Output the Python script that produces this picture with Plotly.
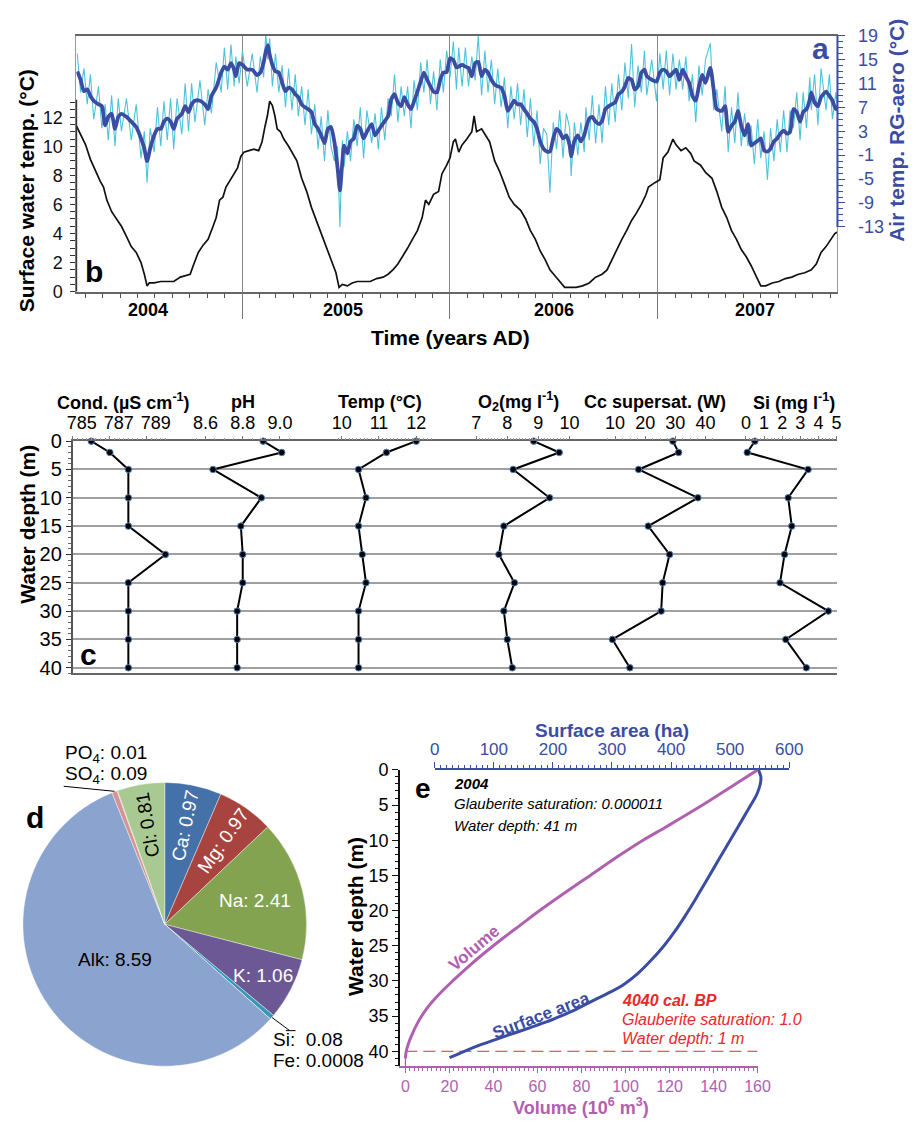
import numpy as np
import pandas as pd
import plotly.graph_objects as go

W, H = 917, 1127
FONT = "Liberation Sans, Arial, Helvetica, sans-serif"
BLUE = "#3A4DA3"
CYAN = "#4DC3DA"
PURPLE = "#B160B0"
RED = "#E8282B"


def px(x):
    return x / W


def py(y):
    return 1 - y / H


# ---------------- Panel a/b: time series ----------------
water_year = [
    2004.205, 2004.225, 2004.249, 2004.272, 2004.296, 2004.319, 2004.335, 2004.351, 2004.374, 2004.398,
    2004.421, 2004.445, 2004.468, 2004.492, 2004.515, 2004.531, 2004.544, 2004.555, 2004.578, 2004.610,
    2004.641, 2004.672, 2004.704, 2004.735, 2004.751, 2004.766, 2004.790, 2004.813, 2004.837, 2004.861,
    2004.876, 2004.892, 2004.908, 2004.923, 2004.947, 2004.962, 2004.978, 2004.994, 2005.009, 2005.033,
    2005.057, 2005.080, 2005.096, 2005.111, 2005.122, 2005.133, 2005.146, 2005.158, 2005.169, 2005.185,
    2005.201, 2005.224, 2005.248, 2005.264, 2005.287, 2005.311, 2005.334, 2005.358, 2005.381, 2005.405,
    2005.428, 2005.452, 2005.467, 2005.483, 2005.507, 2005.530, 2005.554, 2005.585, 2005.617, 2005.648,
    2005.679, 2005.703, 2005.726, 2005.750, 2005.773, 2005.797, 2005.820, 2005.844, 2005.867, 2005.883,
    2005.899, 2005.922, 2005.946, 2005.962, 2005.985, 2006.001, 2006.017, 2006.027, 2006.043, 2006.059,
    2006.082, 2006.106, 2006.117, 2006.129, 2006.153, 2006.169, 2006.192, 2006.216, 2006.239, 2006.263,
    2006.286, 2006.310, 2006.341, 2006.365, 2006.388, 2006.412, 2006.435, 2006.459, 2006.482, 2006.506,
    2006.530, 2006.553, 2006.577, 2006.608, 2006.639, 2006.671, 2006.702, 2006.733, 2006.757, 2006.780,
    2006.804, 2006.828, 2006.851, 2006.875, 2006.898, 2006.922, 2006.945, 2006.956, 2006.987, 2007.011,
    2007.027, 2007.050, 2007.074, 2007.089, 2007.113, 2007.136, 2007.160, 2007.176, 2007.207, 2007.231,
    2007.262, 2007.285, 2007.309, 2007.333, 2007.356, 2007.380, 2007.403, 2007.427, 2007.450, 2007.474,
    2007.497, 2007.521, 2007.552, 2007.584, 2007.615, 2007.646, 2007.678, 2007.709, 2007.740, 2007.764,
    2007.787, 2007.811, 2007.835, 2007.853, 2007.866,
]
water_temp = [
    11.4, 10.8, 10.1, 9.1, 8.3, 7.6, 7.2, 6.3, 5.5, 5.0,
    4.5, 3.8, 3.1, 2.7, 2.0, 1.2, 0.4, 0.6, 0.6, 0.7,
    0.7, 0.7, 1.0, 1.1, 1.2, 1.8, 2.7, 3.2, 3.6, 4.5,
    5.1, 6.3, 6.5, 7.2, 7.8, 8.2, 8.5, 9.3, 9.6, 9.7,
    9.8, 9.7, 10.3, 11.4, 12.1, 13.1, 12.8, 12.1, 11.2, 11.0,
    10.5, 10.0, 9.4, 9.0, 7.8, 6.9, 5.8, 4.9, 4.0, 3.1,
    2.2, 1.3, 0.3, 0.5, 0.4, 0.6, 0.7, 0.7, 0.7, 0.9,
    1.0, 1.2, 1.5, 1.9, 2.4, 3.0, 3.6, 4.2, 5.1, 6.3,
    6.0, 6.7, 6.9, 8.1, 8.7, 9.2, 10.3, 10.5, 9.6, 10.1,
    10.5, 11.0, 12.1, 11.0, 11.2, 10.8, 10.3, 9.0, 8.3, 7.4,
    6.5, 6.0, 5.6, 5.0, 4.2, 3.6, 2.8, 2.2, 1.5, 1.1,
    0.7, 0.3, 0.3, 0.3, 0.4, 0.6, 1.0, 1.2, 1.5, 2.2,
    2.9, 3.6, 4.2, 4.9, 5.4, 6.0, 6.7, 7.2, 7.5, 7.7,
    9.2, 9.6, 10.5, 10.1, 9.7, 9.9, 9.5, 9.0, 8.7, 8.2,
    7.8, 6.9, 5.8, 5.1, 4.2, 3.6, 2.9, 2.4, 1.8, 1.1,
    0.4, 0.4, 0.6, 0.7, 0.9, 1.0, 1.2, 1.3, 1.5, 1.9,
    2.7, 3.1, 3.6, 4.0, 4.1,
]

air_year = [
    2004.209, 2004.225, 2004.241, 2004.257, 2004.272, 2004.288, 2004.311, 2004.327, 2004.343, 2004.358,
    2004.374, 2004.390, 2004.406, 2004.421, 2004.445, 2004.468, 2004.492, 2004.515, 2004.531, 2004.544,
    2004.559, 2004.578, 2004.594, 2004.610, 2004.625, 2004.641, 2004.657, 2004.672, 2004.688, 2004.711,
    2004.727, 2004.743, 2004.758, 2004.774, 2004.798, 2004.821, 2004.837, 2004.853, 2004.876, 2004.900,
    2004.915, 2004.931, 2004.947, 2004.962, 2004.970, 2004.986, 2005.002, 2005.025, 2005.049, 2005.072,
    2005.088, 2005.104, 2005.114, 2005.124, 2005.133, 2005.146, 2005.161, 2005.177, 2005.193, 2005.209,
    2005.224, 2005.240, 2005.256, 2005.271, 2005.287, 2005.303, 2005.318, 2005.334, 2005.350, 2005.366,
    2005.381, 2005.397, 2005.413, 2005.428, 2005.444, 2005.460, 2005.471, 2005.483, 2005.491, 2005.507,
    2005.522, 2005.538, 2005.554, 2005.569, 2005.585, 2005.601, 2005.624, 2005.640, 2005.656, 2005.671,
    2005.687, 2005.703, 2005.718, 2005.734, 2005.750, 2005.766, 2005.781, 2005.797, 2005.813, 2005.828,
    2005.844, 2005.860, 2005.875, 2005.891, 2005.907, 2005.922, 2005.938, 2005.954, 2005.969, 2005.985,
    2006.001, 2006.017, 2006.032, 2006.043, 2006.059, 2006.075, 2006.090, 2006.106, 2006.122, 2006.137,
    2006.153, 2006.169, 2006.184, 2006.200, 2006.216, 2006.231, 2006.247, 2006.263, 2006.279, 2006.294,
    2006.310, 2006.326, 2006.341, 2006.357, 2006.373, 2006.388, 2006.404, 2006.420, 2006.435, 2006.451,
    2006.467, 2006.482, 2006.498, 2006.514, 2006.529, 2006.545, 2006.561, 2006.577, 2006.584, 2006.600,
    2006.616, 2006.631, 2006.647, 2006.655, 2006.671, 2006.686, 2006.702, 2006.718, 2006.733, 2006.749,
    2006.765, 2006.780, 2006.796, 2006.812, 2006.828, 2006.843, 2006.859, 2006.875, 2006.890, 2006.906,
    2006.922, 2006.937, 2006.948, 2006.972, 2006.995, 2007.011, 2007.027, 2007.042, 2007.058, 2007.074,
    2007.089, 2007.105, 2007.121, 2007.136, 2007.152, 2007.168, 2007.184, 2007.199, 2007.215, 2007.231,
    2007.254, 2007.270, 2007.285, 2007.309, 2007.325, 2007.340, 2007.356, 2007.372, 2007.387, 2007.403,
    2007.419, 2007.435, 2007.450, 2007.466, 2007.482, 2007.497, 2007.513, 2007.529, 2007.544, 2007.560,
    2007.576, 2007.591, 2007.607, 2007.623, 2007.638, 2007.654, 2007.670, 2007.686, 2007.701, 2007.717,
    2007.733, 2007.740, 2007.756, 2007.772, 2007.787, 2007.811, 2007.827, 2007.842, 2007.858, 2007.871,
]
air_smooth = [
    13.0, 11.6, 9.7, 10.0, 8.9, 8.1, 7.5, 7.2, 4.0, 5.4,
    5.9, 3.4, 5.4, 5.9, 5.4, 4.6, 3.7, 1.8, 0.1, -2.0,
    0.1, 2.3, 3.4, 3.4, 4.6, 5.1, 4.6, 3.4, 5.1, 5.9,
    7.2, 6.2, 7.5, 8.1, 8.1, 7.5, 6.7, 8.9, 10.3, 12.8,
    13.8, 13.3, 14.4, 13.3, 12.2, 14.4, 14.1, 13.3, 13.3, 12.4,
    12.8, 14.5, 16.3, 17.4, 15.8, 14.1, 13.0, 12.8, 11.1, 9.7,
    10.3, 10.0, 9.2, 8.7, 7.5, 7.0, 6.7, 6.2, 4.2, 3.4,
    2.3, 1.0, 3.4, 3.7, 1.3, -3.2, -6.9, -2.0, 0.6, -0.7,
    1.3, 1.8, 3.9, 3.4, 1.8, 2.9, 4.2, 2.3, 3.1, 3.9,
    4.7, 5.5, 8.3, 9.2, 7.8, 7.2, 8.7, 7.5, 6.7, 8.0,
    9.6, 11.3, 12.8, 11.6, 10.5, 9.6, 9.5, 11.6, 12.8, 12.9,
    15.2, 14.9, 13.7, 13.8, 14.1, 13.8, 13.6, 12.2, 14.4, 14.6,
    12.2, 13.3, 12.8, 11.6, 10.8, 10.5, 10.3, 8.9, 6.4, 7.2,
    8.1, 7.5, 7.5, 6.7, 5.9, 5.1, 4.6, 3.4, 1.3, 0.1,
    -0.4, -0.4, 1.8, 3.4, 2.9, 1.8, 2.3, 0.6, -1.2, 1.4,
    2.3, 1.3, 2.3, 3.4, 5.1, 5.4, 4.6, 4.2, 4.7, 6.7,
    7.2, 7.5, 7.8, 9.2, 9.6, 10.5, 11.9, 11.6, 10.0, 10.5,
    12.8, 13.3, 12.2, 11.6, 11.3, 12.8, 13.3, 13.0, 12.2, 12.8,
    13.3, 11.6, 13.3, 12.2, 11.1, 8.9, 8.1, 10.5, 12.4, 11.1,
    13.6, 10.0, 6.7, 6.4, 7.2, 2.9, 3.9, 4.6, 6.4, 3.9,
    2.3, 4.2, 0.6, 1.0, 1.4, 1.8, -0.2, -0.4, 0.1, 1.3,
    1.8, 2.6, 3.1, 2.6, 2.9, 6.7, 6.2, 4.6, 6.2, 6.7,
    8.3, 9.5, 7.8, 7.2, 8.7, 9.6, 8.9, 8.1, 6.7, 7.2,
]
air_daily = [
    16.0, 9.5, 13.5, 7.5, 12.5, 5.0, 10.5, 3.5, 7.5, 1.5,
    9.0, 0.5, 8.5, 3.0, 8.5, 1.5, 7.5, -1.5, 3.0, -5.6,
    3.5, -0.5, 7.0, 0.5, 8.0, 1.5, 8.5, 0.0, 8.5, 2.5,
    11.0, 3.0, 11.0, 4.5, 11.5, 4.0, 10.0, 6.0, 14.5, 9.5,
    17.0, 10.0, 17.5, 10.5, 15.5, 11.0, 16.5, 10.5, 16.0, 9.5,
    15.5, 12.0, 19.3, 15.0, 18.5, 10.5, 16.0, 9.5, 14.0, 7.0,
    13.5, 6.5, 12.5, 5.5, 10.5, 4.0, 10.0, 2.5, 7.5, 0.0,
    5.5, -2.0, 6.5, 0.5, -2.0, 0.5, -13.0, 1.5, -3.0, 3.0,
    -2.0, 5.0, 0.5, 7.0, -1.5, 6.5, 1.0, 6.0, 0.0, 7.0,
    1.5, 8.5, 5.5, 12.5, 4.5, 10.5, 5.5, 10.5, 3.5, 11.5,
    6.5, 14.5, 9.5, 15.0, 7.5, 13.0, 6.5, 15.0, 9.5, 16.5,
    12.0, 18.0, 10.0, 17.0, 10.5, 17.0, 10.5, 15.5, 11.5, 19.0,
    9.0, 16.5, 9.5, 15.0, 7.5, 13.5, 7.0, 12.0, 3.5, 10.5,
    5.0, 11.0, 4.0, 10.0, 2.0, 8.5, 0.5, 6.5, -2.5, 3.5,
    2.5, -7.3, 4.5, 0.0, 6.5, -1.5, 6.0, 3.5, -4.5, 4.5,
    -1.0, 4.5, -0.5, 7.0, 1.5, 9.0, 1.0, 7.5, 1.0, 10.5,
    4.0, 11.0, 4.5, 12.5, 6.5, 14.5, 8.5, 17.6, 7.0, 14.0,
    9.5, 16.5, 9.0, 15.0, 8.0, 16.0, 10.0, 16.5, 9.0, 16.0,
    10.0, 15.0, 10.0, 15.5, 8.0, 12.5, 4.5, 14.0, 9.0, 15.0,
    17.7, 6.5, 10.0, 3.0, 10.5, -0.5, 7.0, 1.0, 9.5, 0.5,
    6.0, 0.5, 4.0, -2.5, 5.0, -1.5, 3.0, -5.1, 3.5, -2.0,
    5.0, -0.5, 6.5, -0.5, 6.5, 3.5, 9.5, 1.5, 9.5, 3.5,
    12.0, 6.5, 12.5, 4.0, 13.5, 6.5, 12.5, 5.0, 9.5, 5.0,
]
year_labels = ["2004", "2005", "2006", "2007"]
water_ticks = [0, 2, 4, 6, 8, 10, 12]
air_ticks = [-13, -9, -5, -1, 3, 7, 11, 15, 19]

# ---------------- Panel c: depth profiles ----------------
depth = [0, 2, 5, 10, 15, 20, 25, 30, 35, 40]
cond = [786.0, 787.0, 788.0, 788.0, 788.0, 790.0, 788.0, 788.0, 788.0, 788.0]
ph = [8.91, 9.01, 8.64, 8.90, 8.79, 8.80, 8.80, 8.77, 8.77, 8.77]
temp = [12.0, 11.2, 10.45, 10.65, 10.45, 10.55, 10.65, 10.45, 10.45, 10.45]
o2 = [8.85, 9.67, 8.19, 9.36, 7.89, 7.73, 8.23, 7.89, 8.0, 8.16]
cc = [29.2, 31.1, 17.8, 37.5, 21.0, 28.1, 25.8, 25.3, 9.1, 14.9]
si = [0.49, 0.07, 3.43, 2.33, 2.53, 2.13, 1.88, 4.55, 2.2, 3.33]

# ---------------- Panel d: pie ----------------
ions = ["Ca", "Mg", "Na", "K", "Si", "Fe", "Alk", "SO4", "PO4", "Cl"]
conc = [0.97, 0.97, 2.41, 1.06, 0.08, 0.0008, 8.59, 0.09, 0.01, 0.81]
ion_colors = ["#4571A9", "#A8443F", "#83A350", "#6D5896", "#3599B3", "#E08A3C",
              "#8BA4CF", "#D39594", "#C6706E", "#A9C992"]

# ---------------- Panel e: hypsometry ----------------
vol_depth = [0, 2, 5, 8, 10, 12, 15, 18, 20, 22, 24, 26, 28, 30, 32, 34, 36, 38, 39, 40, 41]
volume = [160, 150, 135, 119, 108, 98, 84, 70, 61, 52.5, 44, 36, 28.5, 21.5, 15, 9.5, 5.5, 2.5, 1.3, 0.4, 0]
area_depth = [0, 1, 2, 3.5, 5, 7, 9, 11, 13, 15, 17, 19, 21, 23, 25, 27, 29, 30.5, 31.6, 32.8,
              34, 35, 35.8, 36.6, 37.4, 38.3, 39.1, 40, 40.9]
area = [548, 552, 551, 545, 535, 521, 507, 493, 479, 465, 451, 437, 422, 406, 388, 367, 343, 320,
        297, 268, 240, 213, 190, 163, 135, 104, 77, 50, 25]
sat_depth = 40


def to_date(yrs):
    out = []
    for v in yrs:
        y = int(np.floor(v))
        s = pd.Timestamp(y, 1, 1)
        e = pd.Timestamp(y + 1, 1, 1)
        out.append(s + (e - s) * (v - y))
    return out


fig = go.Figure()

# Panel a/b traces
fig.add_trace(go.Scatter(x=to_date(water_year), y=water_temp, mode="lines",
                         line=dict(color="#111111", width=1.7), xaxis="x", yaxis="y",
                         showlegend=False, hoverinfo="skip"))
fig.add_trace(go.Scatter(x=to_date(air_year), y=air_daily, mode="lines",
                         line=dict(color=CYAN, width=1.1), xaxis="x", yaxis="y2",
                         showlegend=False, hoverinfo="skip"))
fig.add_trace(go.Scatter(x=to_date(air_year), y=air_smooth, mode="lines",
                         line=dict(color=BLUE, width=3.8, shape="spline", smoothing=0.6),
                         xaxis="x", yaxis="y2", showlegend=False, hoverinfo="skip"))

# Panel c traces
fig.add_trace(go.Scatter(x=[0, 1], y=[0, 0], mode="markers", marker=dict(opacity=0),
                         xaxis="x2", yaxis="y3", showlegend=False, hoverinfo="skip"))
profiles = [cond, ph, temp, o2, cc, si]
for i, vals in enumerate(profiles):
    fig.add_trace(go.Scatter(x=vals, y=depth, mode="lines+markers",
                             line=dict(color="black", width=2),
                             marker=dict(size=6.5, color="black", line=dict(color="#4A7FC0", width=1)),
                             xaxis="x%d" % (i + 3), yaxis="y3", showlegend=False,
                             hoverinfo="skip", cliponaxis=False))

# Panel d pie
PIE_CX, PIE_CY, PIE_R = 162.3, 930.7, 145
fig.add_trace(go.Pie(values=conc, labels=ions, sort=False, direction="clockwise", rotation=0,
                     marker=dict(colors=ion_colors, line=dict(color="white", width=0.4)),
                     textinfo="none", hoverinfo="skip", showlegend=False,
                     domain=dict(x=[px(PIE_CX - PIE_R), px(PIE_CX + PIE_R)],
                                 y=[py(PIE_CY + PIE_R), py(PIE_CY - PIE_R)])))

# Panel e traces
fig.add_trace(go.Scatter(x=[0, 160], y=[sat_depth, sat_depth], mode="lines",
                         line=dict(color=RED, width=1, dash="12px,6px"),
                         xaxis="x9", yaxis="y4", showlegend=False, hoverinfo="skip"))
fig.add_trace(go.Scatter(x=[0, 0], y=[sat_depth, 42.09], mode="lines",
                         line=dict(color=RED, width=1),
                         xaxis="x9", yaxis="y4", showlegend=False, hoverinfo="skip"))
fig.add_trace(go.Scatter(x=volume, y=vol_depth, mode="lines",
                         line=dict(color=PURPLE, width=3, shape="spline"),
                         xaxis="x9", yaxis="y4", showlegend=False, hoverinfo="skip"))
fig.add_trace(go.Scatter(x=area, y=area_depth, mode="lines",
                         line=dict(color=BLUE, width=3, shape="spline", smoothing=0.8),
                         xaxis="x10", yaxis="y4", showlegend=False, hoverinfo="skip"))

# ---------------- Layout ----------------
x_start = to_date([2004.205])[0]
x_end = to_date([2007.866])[0]

layout = dict(
    width=W, height=H, margin=dict(l=0, r=0, t=0, b=0),
    paper_bgcolor="white", plot_bgcolor="rgba(0,0,0,0)",
    font=dict(family=FONT, size=16, color="black"),
    showlegend=False,
)

layout["xaxis"] = dict(
    domain=[px(72), px(850)], type="date", range=[x_start, x_end], anchor="y",
    tick0="2004-01-01", dtick="M12", ticks="outside", ticklen=26, tickcolor="#777",
    tickwidth=1, showticklabels=False, showgrid=True, gridcolor="#888", gridwidth=1,
    showline=True, linecolor="#666", linewidth=1.5, mirror=True, zeroline=False,
    minor=dict(dtick="M1", ticks="outside", ticklen=5, tickcolor="#555", showgrid=False),
)
layout["yaxis"] = dict(
    domain=[py(286), py(25)], range=[0, 17.62], anchor="x",
    tickvals=water_ticks, ticks="outside", ticklen=5, tickcolor="#333",
    tickfont=dict(size=18, color="#111"), ticklabelstandoff=4, showgrid=False, zeroline=False,
    showline=True, linecolor="#999", linewidth=1, mirror=True,
    minor=dict(tickvals=[v / 2 for v in range(0, 27) if v % 4 != 0], ticks="outside",
               ticklen=5, tickcolor="#333"),
)
layout["yaxis2"] = dict(
    overlaying="y", side="right", anchor="x", range=[-23.83, 19],
    tickvals=air_ticks, ticktext=[str(v) for v in air_ticks], ticks="outside", ticklen=7,
    tickcolor=BLUE, tickfont=dict(size=18, color=BLUE), ticklabelstandoff=9,
    showgrid=False, zeroline=False, showline=False,
    minor=dict(tickvals=[v for v in range(-13, 20) if v not in air_ticks], ticks="outside",
               ticklen=5, tickcolor=BLUE),
)

# panel c
layout["xaxis2"] = dict(domain=[px(68), px(850)], range=[0, 1], anchor="y3",
                        showline=True, mirror=True, linecolor="#666", linewidth=1.5,
                        ticks="", showticklabels=False, showgrid=False, zeroline=False)
layout["yaxis3"] = dict(
    domain=[py(675), py(438.3)], range=[41.0, 0], anchor="x2",
    tickvals=list(range(0, 41, 5)), ticks="outside", ticklen=5, tickcolor="#333",
    showgrid=True, gridcolor="#a0a0a0", gridwidth=1.5, tickfont=dict(size=20),
    minor=dict(tickvals=[v for v in range(0, 42) if v % 5 != 0], ticks="outside",
               ticklen=3, tickcolor="#666"),
    zeroline=False, showline=True, linecolor="#555", linewidth=1.5,
)


def lin_range(v1, p1, v2, p2, left=68, right=850):
    s = (v2 - v1) / (p2 - p1)
    return [v1 + (left - p1) * s, v1 + (right - p1) * s]


sub_axes = [
    # (v1, px1, v2, px2, tickvals, ticktext, minor, shift)
    (785, 68.3, 789, 144.0, [785, 787, 789], ["785", "787", "789"],
     [785 + 0.25 * k for k in range(0, 21)], 9),
    (8.6, 204, 9.0, 280, [8.6, 8.8, 9.0], ["8.6", "8.8", "9.0"],
     [round(8.55 + 0.05 * k, 2) for k in range(0, 11)], 0),
    (10, 343.3, 12, 419.3, [10, 11, 12], ["10", "11", "12"],
     [round(9.9 + 0.1 * k, 1) for k in range(0, 26)], 0),
    (7, 480.7, 10, 576, [7, 8, 9, 10], ["7", "8", "9", "10"],
     [round(7 + 0.1 * k, 1) for k in range(0, 31)], 0),
    (10, 622.7, 40, 715, [10, 20, 30, 40], ["10", "20", "30", "40"],
     [7.5 + 2.5 * k for k in range(0, 15)], 0),
    (0, 756.5, 5, 849, [0, 1, 2, 3, 4, 5], ["0", "1", "2", "3", "4", "5"],
     [round(0.2 * k, 1) for k in range(0, 26)], 0),
]
for i, (v1, p1, v2, p2, tv, tt, mn, sh) in enumerate(sub_axes):
    ax = dict(overlaying="x2", anchor="y3", side="top", range=lin_range(v1, p1, v2, p2),
              tickvals=tv, ticktext=tt, ticks="outside", ticklen=4, tickcolor="#777",
              tickfont=dict(size=18), showgrid=False, zeroline=False, showline=False,
              minor=dict(tickvals=mn, ticks="outside", ticklen=2, tickcolor="#999"))
    if sh:
        ax["ticklabelshift"] = sh
    layout["xaxis%d" % (i + 3)] = ax

# panel e
layout["xaxis9"] = dict(
    domain=[px(401.7), px(768.3)], range=[-2.93, 160], anchor="y4", side="bottom",
    tickvals=list(range(0, 161, 20)), ticks="outside", ticklen=5, tickcolor=PURPLE,
    tickfont=dict(size=16, color=PURPLE), showline=True, linecolor=PURPLE, linewidth=1.5,
    showgrid=False, zeroline=False,
    minor=dict(tickvals=[v for v in range(2, 160, 2) if v % 20 != 0], ticks="outside",
               ticklen=3, tickcolor=PURPLE),
)
layout["xaxis10"] = dict(
    domain=[px(438.3), px(800.7)], range=[0, 600], anchor="y4", side="top",
    tickvals=list(range(0, 601, 100)), ticks="outside", ticklen=6, tickcolor=BLUE,
    tickfont=dict(size=17, color=BLUE), showline=True, linecolor=BLUE, linewidth=1.5,
    showgrid=False, zeroline=False,
    minor=dict(tickvals=[v for v in range(10, 600, 10) if v % 100 != 0], ticks="outside",
               ticklen=3, tickcolor=BLUE),
)
layout["yaxis4"] = dict(
    domain=[py(1075), py(773.3)], range=[42.09, 0], anchor="free", position=px(401.7),
    tickvals=list(range(0, 41, 5)), ticks="outside", ticklen=6, tickcolor="#111",
    tickfont=dict(size=18), showline=True, linecolor="#111", linewidth=1.5,
    showgrid=False, zeroline=False,
    minor=dict(tickvals=[v for v in range(0, 43) if v % 5 != 0], ticks="outside",
               ticklen=3, tickcolor="#111"),
)

fig.update_layout(**layout)


# ---------------- Annotations ----------------
def ann(text, x, y, size, color="black", bold=False, italic=False, angle=0,
        xanchor="center", yanchor="middle"):
    t = text
    if bold:
        t = "<b>%s</b>" % t
    if italic:
        t = "<i>%s</i>" % t
    return dict(text=t, x=px(x), y=py(y), xref="paper", yref="paper", showarrow=False,
                font=dict(size=size, color=color, family=FONT), textangle=angle,
                xanchor=xanchor, yanchor=yanchor, borderpad=0)


anns = []
# panel a/b
anns.append(ann("a", 833, 38, 30, BLUE, bold=True))
anns.append(ann("b", 90, 265, 30, "black", bold=True))
for lab, xp in zip(year_labels, [145, 345, 560, 766]):
    anns.append(ann(lab, xp, 305, 18, bold=True))
anns.append(ann("Time (years AD)", 454, 333, 21, bold=True))
anns.append(ann("Surface water temp. (°C)", 21, 183, 21, bold=True, angle=-90))
anns.append(ann("Air temp. RG-aero (°C)", 911, 122, 21, BLUE, bold=True, angle=-90))

# panel c
for txt, xp in [("Cond. (µS cm<sup>-1</sup>)", 120), ("pH", 242), ("Temp (°C)", 382),
                ("O<sub>2</sub>(mg l<sup>-1</sup>)", 524), ("Cc supersat. (W)", 663),
                ("Si (mg l<sup>-1</sup>)", 806)]:
    anns.append(ann(txt, xp, 398, 18, bold=True))
anns.append(ann("c", 84, 656, 30, bold=True))
anns.append(ann("Water depth (m)", 22, 523, 21, bold=True, angle=-90))

# panel d
anns.append(ann("d", 30, 822, 30, bold=True))
total = float(sum(conc))
cum = 0.0
mid = {}
for name, v in zip(ions, conc):
    mid[name] = (cum + v / 2) / total * 360.0
    cum += v

label_cfg = {
    "Ca": ("Ca: 0.97", 0.71, "white", "radial"),
    "Mg": ("Mg: 0.97", 0.72, "white", "radial"),
    "Cl": ("Cl: 0.81", 0.71, "black", "radial"),
    "Na": ("Na: 2.41", 0.66, "white", "flat"),
    "K": ("K: 1.06", 0.78, "white", "flat"),
    "Alk": ("Alk: 8.59", 0.43, "black", "flat"),
}
for name, (txt, rf, col, mode) in label_cfg.items():
    th = mid[name]
    xx = PIE_CX + rf * PIE_R * np.sin(np.radians(th))
    yy = PIE_CY - rf * PIE_R * np.cos(np.radians(th))
    ang = 0
    if mode == "radial":
        ang = th - 90 if th < 180 else th - 450
    anns.append(ann(txt, xx, yy, 19, col, angle=ang))

anns.append(ann("PO<sub>4</sub>: 0.01", 59, 757, 19, xanchor="left"))
anns.append(ann("SO<sub>4</sub>: 0.09", 59, 779, 19, xanchor="left"))
anns.append(ann("Si:  0.08", 272, 1048, 19, xanchor="left"))
anns.append(ann("Fe: 0.0008", 272, 1069, 19, xanchor="left"))

# panel e
anns.append(ann("e", 426, 792, 28, bold=True))
anns.append(ann("2004", 457, 787, 15, bold=True, italic=True, xanchor="left"))
anns.append(ann("Glauberite saturation: 0.000011", 457, 808, 15, italic=True, xanchor="left"))
anns.append(ann("Water depth: 41 m", 457, 830, 15, italic=True, xanchor="left"))
anns.append(ann("4040 cal. BP", 629, 1008, 16, RED, bold=True, italic=True, xanchor="left"))
anns.append(ann("Glauberite saturation: 1.0", 629, 1028, 16, RED, italic=True, xanchor="left"))
anns.append(ann("Water depth: 1 m", 629, 1047, 16, RED, italic=True, xanchor="left"))
anns.append(ann("Volume", 478, 955, 17, PURPLE, bold=True, angle=-40))
anns.append(ann("Surface area", 547, 1024, 17, BLUE, bold=True, angle=-21))
anns.append(ann("Surface area (ha)", 620, 733, 19, BLUE, bold=True))
anns.append(ann("Volume (10<sup>6</sup> m<sup>3</sup>)", 588, 1129, 18, PURPLE, bold=True,
                yanchor="bottom"))
anns.append(ann("Water depth (m)", 358, 923, 21, bold=True, angle=-90))

fig.update_layout(annotations=anns)

# ---------------- Shapes ----------------
shapes = []
# dark part of left axis (water temperature scale)
shapes.append(dict(type="line", xref="paper", yref="y", x0=px(72), x1=px(72), y0=0, y1=13.2,
                   line=dict(color="#333", width=1.5)))
# blue air temperature axis line
shapes.append(dict(type="line", xref="paper", yref="y2", x0=px(850), x1=px(850), y0=-13, y1=19,
                   line=dict(color=BLUE, width=2)))
# pie leader lines
th = np.radians(mid["SO4"])
ex, ey = PIE_CX + PIE_R * np.sin(th), PIE_CY - PIE_R * np.cos(th)
shapes.append(dict(type="line", xref="paper", yref="paper", x0=px(ex), y0=py(ey),
                   x1=px(59), y1=py(790), line=dict(color="black", width=1)))
th = np.radians(mid["Si"])
ex, ey = PIE_CX + PIE_R * np.sin(th), PIE_CY - PIE_R * np.cos(th)
shapes.append(dict(type="line", xref="paper", yref="paper", x0=px(ex), y0=py(ey),
                   x1=px(290), y1=py(1039), line=dict(color="black", width=1)))
shapes.append(dict(type="line", xref="paper", yref="paper", x0=px(286), y0=py(1039),
                   x1=px(296), y1=py(1039), line=dict(color="black", width=1)))
fig.update_layout(shapes=shapes)

fig.write_html("out.html")
